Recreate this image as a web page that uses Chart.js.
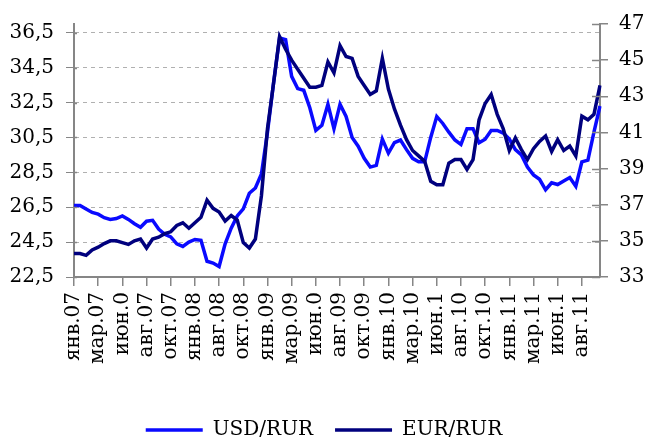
<!DOCTYPE html>
<html>
<head>
<meta charset="utf-8">
<script src="https://cdn.jsdelivr.net/npm/chart.js@4.4.1/dist/chart.umd.min.js"></script>
<style>
  html, body { margin: 0; padding: 0; background: #fff; }
</style>
</head>
<body>
<canvas id="rateChart" width="648" height="438"></canvas>
<script>
// month labels under the x axis (one every 4 points)
const monthLabels = ['янв.07', 'мар.07', 'июн.0', 'авг.07', 'окт.07', 'янв.08', 'авг.08', 'окт.08',
  'янв.09', 'мар.09', 'июн.0', 'авг.09', 'окт.09', 'янв.10', 'мар.10', 'июн.1',
  'авг.10', 'окт.10', 'янв.11', 'мар.11', 'июн.1', 'авг.11'];
const pointsPerLabel = 4;

// USD/RUR, left axis
const usdRur = [26.6, 26.6, 26.4, 26.2, 26.1, 25.9, 25.8, 25.85, 26.0, 25.8,
  25.55, 25.35, 25.7, 25.75, 25.25, 24.95, 24.8, 24.4, 24.25, 24.5,
  24.65, 24.6, 23.4, 23.3, 23.1, 24.4, 25.3, 26.0, 26.4, 27.3,
  27.6, 28.4, 30.8, 33.6, 36.2, 36.1, 34.0, 33.3, 33.2, 32.2,
  30.9, 31.2, 32.4, 31.0, 32.4, 31.7, 30.5, 30.0, 29.3, 28.8,
  28.9, 30.4, 29.6, 30.2, 30.35, 29.8, 29.3, 29.1, 29.1, 30.5,
  31.7, 31.3, 30.8, 30.35, 30.1, 31.0, 31.0, 30.2, 30.4, 30.9,
  30.9, 30.75, 30.4, 29.8, 29.5, 28.8, 28.35, 28.1, 27.5, 27.9,
  27.8, 28.0, 28.2, 27.7, 29.1, 29.2, 30.8, 32.3];

// EUR/RUR, right axis
const eurRur = [34.3, 34.3, 34.2, 34.5, 34.65, 34.85, 35.0, 35.0, 34.9, 34.8,
  35.0, 35.1, 34.6, 35.1, 35.2, 35.4, 35.5, 35.85, 36.0, 35.7,
  36.0, 36.3, 37.25, 36.8, 36.6, 36.1, 36.4, 36.15, 34.9, 34.6,
  35.1, 37.5, 41.2, 43.7, 46.3, 45.6, 45.0, 44.5, 44.0, 43.5,
  43.5, 43.6, 44.9, 44.3, 45.8, 45.2, 45.1, 44.1, 43.6, 43.1,
  43.3, 45.1, 43.4, 42.3, 41.4, 40.6, 40.0, 39.7, 39.4, 38.3,
  38.1, 38.1, 39.3, 39.5, 39.5, 38.95, 39.5, 41.7, 42.6, 43.1,
  42.0, 41.2, 40.0, 40.7, 40.05, 39.5, 40.1, 40.5, 40.8, 39.95,
  40.6, 40.0, 40.25, 39.7, 41.9, 41.7, 42.0, 43.6];

const usdTicks = [22.5, 24.5, 26.5, 28.5, 30.5, 32.5, 34.5, 36.5];
const eurTicks = [33, 35, 37, 39, 41, 43, 45, 47];

const xLabels = usdRur.map((v, i) => i % pointsPerLabel === 0 ? (monthLabels[i / pointsPerLabel] || '') : '');

const FONT = "'DejaVu Serif', serif";
const axisGray = '#868686';

// small tick stubs on the inner side of both value axes
const innerTicks = {
  id: 'innerTicks',
  afterDatasetsDraw(chart) {
    const {ctx, chartArea} = chart;
    ctx.save();
    ctx.strokeStyle = axisGray;
    ctx.lineWidth = 1.5;
    chart.scales.y1.ticks.forEach(t => {
      const y = Math.round(chart.scales.y1.getPixelForValue(t.value)) + 0.5;
      ctx.beginPath();
      ctx.moveTo(chartArea.right - 8, y);
      ctx.lineTo(chartArea.right, y);
      ctx.stroke();
    });
    chart.scales.y.ticks.forEach(t => {
      const y = Math.round(chart.scales.y.getPixelForValue(t.value)) + 0.5;
      ctx.beginPath();
      ctx.moveTo(chartArea.left, y);
      ctx.lineTo(chartArea.left + 3, y);
      ctx.stroke();
    });
    ctx.restore();
  }
};

const ctx = document.getElementById('rateChart').getContext('2d');
new Chart(ctx, {
  type: 'line',
  data: {
    labels: xLabels,
    datasets: [
      {
        label: 'USD/RUR',
        data: usdRur,
        yAxisID: 'y',
        borderColor: '#0a0aff',
        backgroundColor: '#0a0aff',
        borderWidth: 3.5,
        pointRadius: 0,
        tension: 0,
        order: 1
      },
      {
        label: 'EUR/RUR',
        data: eurRur,
        yAxisID: 'y1',
        borderColor: '#00007e',
        backgroundColor: '#00007e',
        borderWidth: 3.5,
        pointRadius: 0,
        tension: 0,
        order: 0
      }
    ]
  },
  options: {
    responsive: false,
    animation: false,
    layout: { padding: { top: 24, left: 0, right: 0, bottom: -12 } },
    plugins: {
      tooltip: { enabled: false },
      legend: {
        position: 'bottom',
        labels: {
          usePointStyle: true,
          pointStyle: 'line',
          pointStyleWidth: 57,
          padding: 22,
          color: '#000',
          font: { family: FONT, size: 20 },
          sort: (a, b) => a.datasetIndex - b.datasetIndex
        }
      }
    },
    scales: {
      x: {
        grid: {
          drawOnChartArea: false,
          tickLength: 9,
          lineWidth: 1.5,
          tickColor: c => (xLabels[c.index] ? axisGray : 'rgba(0,0,0,0)')
        },
        border: { color: axisGray, width: 2 },
        ticks: {
          autoSkip: false,
          minRotation: 90,
          maxRotation: 90,
          padding: 6,
          color: '#000',
          font: { family: FONT, size: 20 }
        },
        afterFit: s => { s.height = 121; }
      },
      y: {
        position: 'left',
        min: 22.5,
        max: 37,
        afterBuildTicks: s => { s.ticks = usdTicks.map(v => ({ value: v })); },
        grid: {
          color: '#b0b0b0',
          lineWidth: 1,
          borderDash: [4, 4],
          tickColor: axisGray,
          tickLength: 8
        },
        border: { color: axisGray, width: 2, dash: [4, 4] },
        ticks: {
          padding: 12,
          color: '#000',
          font: { family: FONT, size: 20 },
          callback: v => v.toFixed(1).replace('.', ',')
        },
        afterFit: s => { s.width = 74; }
      },
      y1: {
        position: 'right',
        min: 33,
        max: 47,
        afterBuildTicks: s => { s.ticks = eurTicks.map(v => ({ value: v })); },
        grid: {
          drawOnChartArea: false,
          tickColor: axisGray,
          tickLength: 8,
          lineWidth: 1.5
        },
        border: { color: axisGray, width: 2 },
        ticks: {
          padding: 11,
          color: '#000',
          font: { family: FONT, size: 20 }
        },
        afterFit: s => { s.width = 48; }
      }
    }
  },
  plugins: [innerTicks]
});
</script>
</body>
</html>
